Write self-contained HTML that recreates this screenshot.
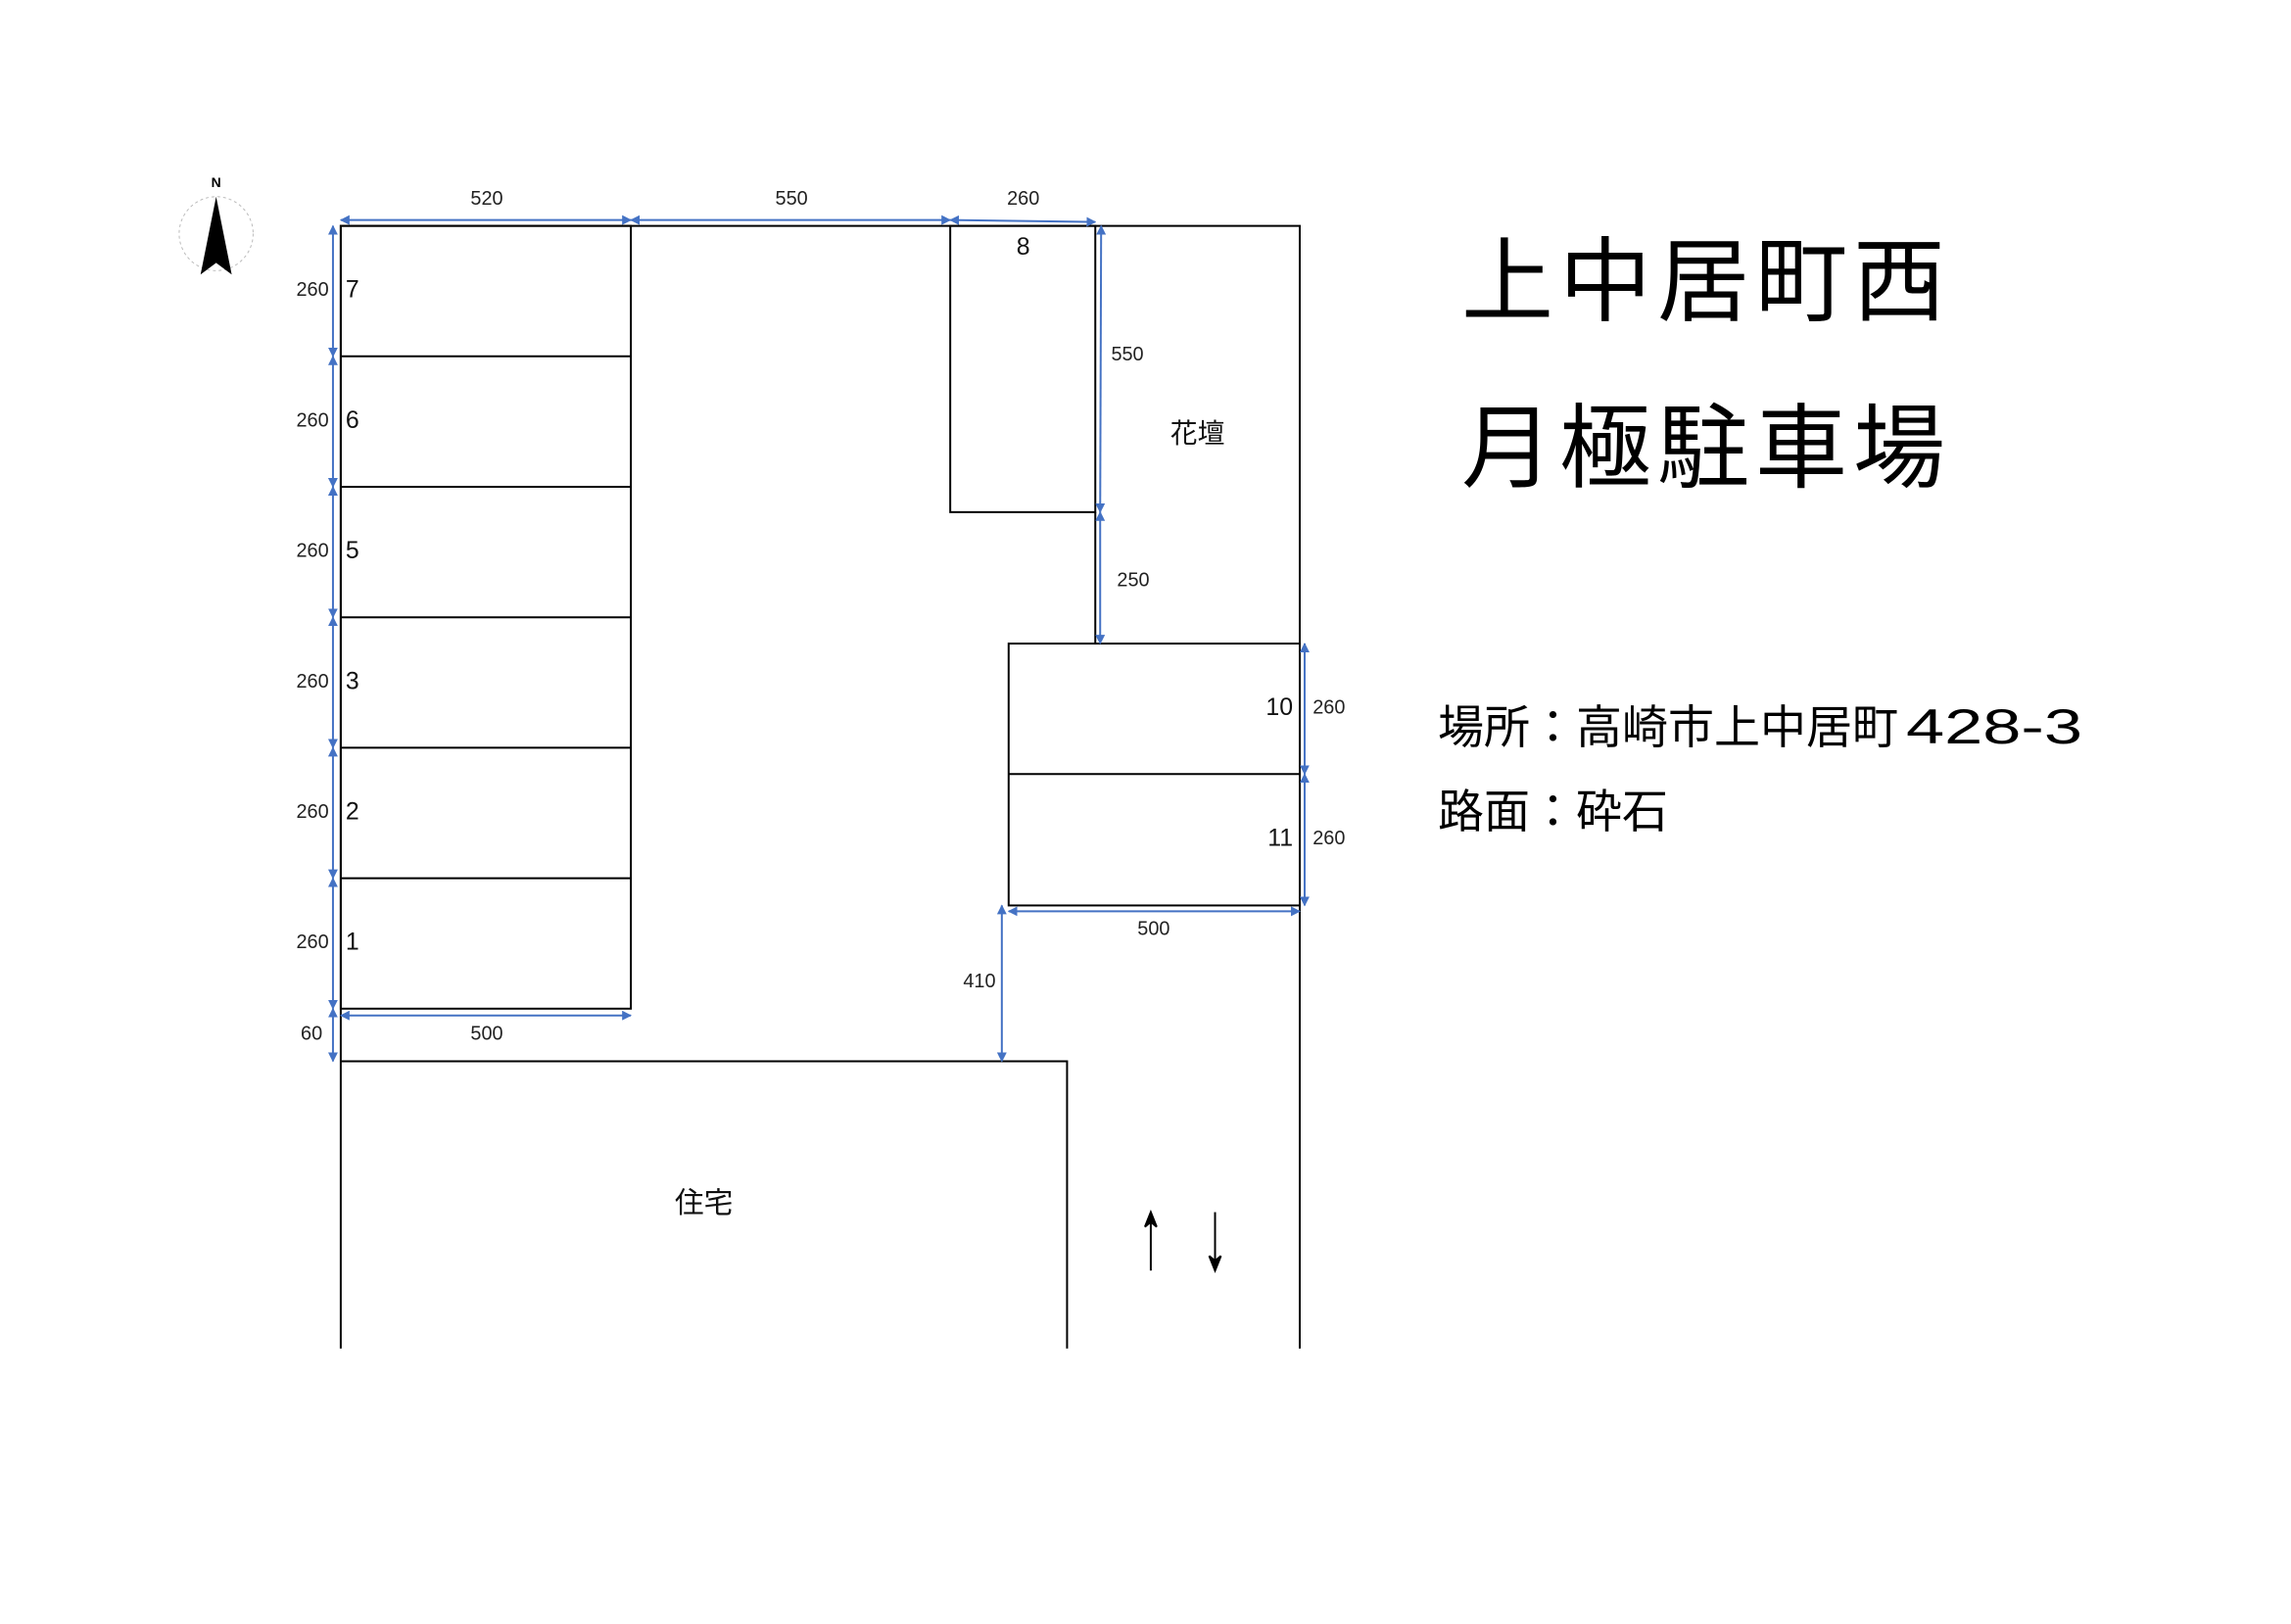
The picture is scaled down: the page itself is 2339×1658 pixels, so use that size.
<!DOCTYPE html>
<html><head><meta charset="utf-8"><style>
body{margin:0;background:#fff;}
svg text{font-family:"Liberation Sans","Noto Sans CJK JP",sans-serif;}
</style></head><body>
<svg width="2339" height="1653" viewBox="0 0 2339 1653" xmlns="http://www.w3.org/2000/svg">
<defs>
<marker id="a" viewBox="0 0 10 10" refX="9" refY="5" markerWidth="5" markerHeight="5" orient="auto-start-reverse"><path d="M0,0 L10,5 L0,10 z" fill="#4472C4"/></marker>
</defs>
<g transform="scale(0.994)">
<g stroke="#000" stroke-width="2" fill="none">
<path d="M350,1385 V232 H1335 V1385"/>
<rect x="350" y="232" width="298" height="804"/>
<path d="M350,366 H648 M350,500 H648 M350,634 H648 M350,768 H648 M350,902 H648"/>
<rect x="976" y="232" width="149" height="294"/>
<path d="M1125,526 V661"/>
<rect x="1036" y="661" width="299" height="269"/>
<path d="M1036,795 H1335"/>
<path d="M350,1090 H1096 V1385"/>
</g>
<g stroke="#4472C4" stroke-width="2" marker-start="url(#a)" marker-end="url(#a)">
<line x1="350" y1="226" x2="648" y2="226"/>
<line x1="648" y1="226" x2="976" y2="226"/>
<line x1="976" y1="226" x2="1125" y2="228"/>
<line x1="342" y1="232" x2="342" y2="366"/>
<line x1="342" y1="366" x2="342" y2="500"/>
<line x1="342" y1="500" x2="342" y2="634"/>
<line x1="342" y1="634" x2="342" y2="768"/>
<line x1="342" y1="768" x2="342" y2="902"/>
<line x1="342" y1="902" x2="342" y2="1036"/>
<line x1="342" y1="1036" x2="342" y2="1090"/>
<line x1="350" y1="1043" x2="648" y2="1043"/>
<line x1="1131" y1="232" x2="1130" y2="526"/>
<line x1="1130" y1="526" x2="1130" y2="661"/>
<line x1="1340" y1="661" x2="1340" y2="795"/>
<line x1="1340" y1="795" x2="1340" y2="930"/>
<line x1="1036" y1="936" x2="1335" y2="936"/>
<line x1="1029" y1="930" x2="1029" y2="1090"/>
</g>
<g font-size="20" fill="#222" text-anchor="middle" dominant-baseline="central">
<text x="500" y="204">520</text><text x="813" y="204">550</text><text x="1051" y="204">260</text>
<text x="321" y="298">260</text><text x="321" y="432">260</text><text x="321" y="566">260</text>
<text x="321" y="700">260</text><text x="321" y="834">260</text><text x="321" y="968">260</text>
<text x="320" y="1062">60</text><text x="500" y="1062">500</text>
<text x="1158" y="364">550</text><text x="1164" y="596">250</text>
<text x="1365" y="727">260</text><text x="1365" y="861">260</text>
<text x="1185" y="954">500</text><text x="1006" y="1008">410</text>
</g>
<g font-size="25" fill="#111" dominant-baseline="central">
<text x="355" y="298">7</text><text x="355" y="432">6</text><text x="355" y="566">5</text>
<text x="355" y="700">3</text><text x="355" y="834">2</text><text x="355" y="968">1</text>
<text x="1051" y="254" text-anchor="middle">8</text>
<text x="1328" y="727" text-anchor="end">10</text><text x="1328" y="861" text-anchor="end">11</text>
<text x="1230" y="445" text-anchor="middle" font-size="28">花壇</text>
<text x="723" y="1236" text-anchor="middle" font-size="30">住宅</text>
</g>
<g stroke="#000" stroke-width="2" fill="#000">
<line x1="1182" y1="1305" x2="1182" y2="1250"/><path d="M1176,1260 L1182,1245 L1188,1260 L1182,1255z"/>
<line x1="1248" y1="1245" x2="1248" y2="1300"/><path d="M1242,1290 L1248,1305 L1254,1290 L1248,1295z"/>
</g>
<g>
<circle cx="222" cy="240" r="38" fill="none" stroke="#bbb" stroke-width="1" stroke-dasharray="3,3"/>
<path d="M222,202 L206,282 L222,270 L238,282 Z" fill="#000"/>
<text x="222" y="192" font-size="14" text-anchor="middle" font-weight="bold" font-family="Liberation Serif,serif">N</text>
</g>
</g>
<g fill="#000" font-family="Liberation Sans,'Noto Sans CJK JP',sans-serif">
<text x="1492" y="320" font-size="94" letter-spacing="6">上中居町西</text>
<text x="1492" y="490" font-size="94" letter-spacing="6">月極駐車場</text>
<text x="1468" y="759" font-size="47">場所：高崎市上中居町</text>
<text x="1946" y="759" font-size="50" textLength="180" lengthAdjust="spacingAndGlyphs">428-3</text>
<text x="1468" y="845" font-size="47">路面：砕石</text>
</g>
</svg>
</body></html>
